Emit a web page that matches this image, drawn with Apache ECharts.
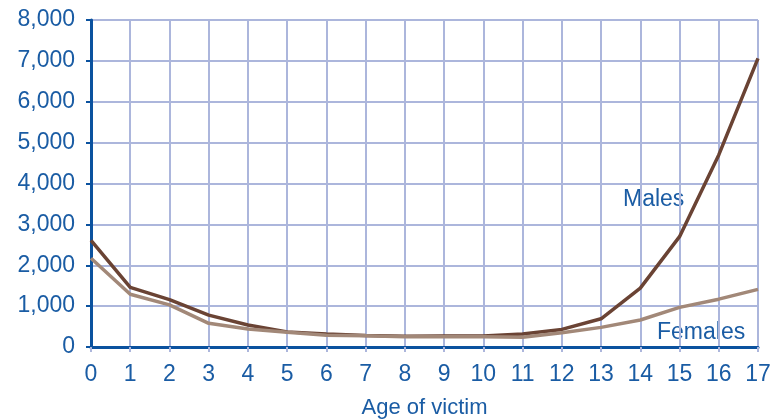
<!DOCTYPE html>
<html>
<head>
<meta charset="utf-8">
<script src="https://cdn.jsdelivr.net/npm/echarts@6/dist/echarts.min.js"></script>
<style>
  html, body { margin: 0; padding: 0; background: #fff; }
  #chart { width: 773px; height: 419px; }
</style>
</head>
<body>
<div id="chart"></div>
<script>
    // data
    let ages = ['0', '1', '2', '3', '4', '5', '6', '7', '8', '9', '10', '11', '12', '13', '14', '15', '16', '17'];
    let males = [2610, 1460, 1160, 780, 540, 370, 320, 280, 260, 270, 270, 320, 430, 690, 1440, 2700, 4700, 7060];
    let females = [2170, 1290, 1030, 580, 440, 360, 290, 275, 250, 250, 250, 240, 350, 480, 660, 970, 1170, 1410];

    let blue = '#1a5ca4';
    let gridColor = '#acb6dc';

    let chart = echarts.init(document.getElementById('chart'));
    chart.setOption({
        animation: false,
        textStyle: { fontFamily: 'Liberation Sans' },
        grid: {
            left: 91,
            right: 15,
            top: 20,
            bottom: 72,
            outerBoundsMode: 'none'
        },
        xAxis: {
            type: 'category',
            data: ages,
            boundaryGap: false,
            name: 'Age of victim',
            nameLocation: 'middle',
            nameGap: 50,
            nameTextStyle: { color: blue, fontSize: 22 },
            axisLine: { show: true, lineStyle: { color: '#0b529f', width: 3 } },
            axisTick: { show: true, length: 5, lineStyle: { color: gridColor, width: 2 } },
            axisLabel: { color: blue, fontSize: 23, margin: 16 },
            splitLine: { show: true, lineStyle: { color: gridColor, width: 2 } }
        },
        yAxis: {
            type: 'value',
            min: 0,
            max: 8000,
            interval: 1000,
            axisLine: { show: true, lineStyle: { color: '#0b529f', width: 3 } },
            axisTick: { show: true, length: 5, lineStyle: { color: '#0b529f', width: 2 } },
            axisLabel: {
                color: blue,
                fontSize: 23,
                margin: 16,
                formatter: function(v) { return v.toLocaleString('en-US'); }
            },
            splitLine: { show: true, lineStyle: { color: gridColor, width: 2 } }
        },
        graphic: [
            { type: 'text', left: 623, top: 188, style: { text: 'Males', fill: blue, font: '23px "Liberation Sans"' } },
            { type: 'text', left: 657, top: 321, style: { text: 'Females', fill: blue, font: '23px "Liberation Sans"' } }
        ],
        series: [{
            name: 'Females',
            type: 'line',
            data: females,
            symbol: 'none',
            lineStyle: { color: '#a28878', width: 3.5 },
            z: 3
        }, {
            name: 'Males',
            type: 'line',
            data: males,
            symbol: 'none',
            lineStyle: { color: '#6a4334', width: 3.5 },
            z: 2
        }]
    });
</script>
</body>
</html>
